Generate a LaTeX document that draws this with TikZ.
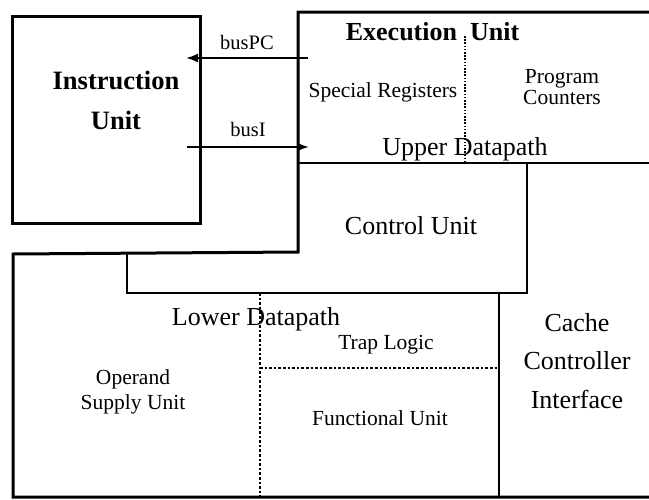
\documentclass[tikz,border=0pt]{standalone}
\usepackage{fontspec}
\setmainfont{Liberation Serif}
\usetikzlibrary{arrows.meta}

\tikzset{
  heavy/.style={line width=3pt, line join=miter},
  light/.style={line width=1.3pt},
  dots/.style={line width=1.3pt, dash pattern=on 1.6pt off 1.6pt},
  dashes/.style={line width=1.3pt, dash pattern=on 2.6pt off 2pt},
  bus/.style={line width=2pt, -{Latex[length=12pt,width=9pt]}},
  big/.style={font=\fontsize{26}{38.5}\selectfont, align=center, inner sep=0pt},
  small/.style={font=\fontsize{21.5}{25}\selectfont, align=center, inner sep=0pt},
  title/.style={font=\bfseries\fontsize{26.5}{40}\selectfont, align=center, inner sep=0pt},
  buslabel/.style={font=\fontsize{20.5}{24}\selectfont, inner sep=0pt},
}

\begin{document}
\begin{tikzpicture}[x=1pt, y=-1pt]
    \useasboundingbox (0,0) rectangle (649,499);

    % Instruction Unit
    \begin{scope}
      \draw[heavy] (12,16) rectangle (200,223); % Box
      \node[title] (iu) at (116,100.5) {Instruction\\Unit};
    \end{scope}

    % Execution Unit, wrapped round the instruction unit
    \begin{scope}
      \draw[heavy] (655,12) -- (298,12) -- (298,252) -- (13,254) -- (13,497) -- (655,497); % Outline
      \node[title, font=\bfseries\fontsize{26}{30}\selectfont] (eu) at (432.5,32) {Execution\hspace{0.5em}Unit};
      \draw[dots] (465,36) -- (465,163); % Registers | counters
      \node[small] (sreg) at (383,92) {Special Registers};
      \node[small, font=\fontsize{21.5}{20.5}\selectfont] (pcnt) at (562,87) {Program\\Counters};
      \draw[light] (298,163) -- (655,163); % Bottom of upper datapath
      \node[big] (udp) at (465,149) {Upper Datapath};
    \end{scope}

    % Buses between the two units
    \coordinate (pcsrc) at (308,58);
    \coordinate (pcdst) at (186,58);
    \coordinate (isrc) at (187,147);
    \coordinate (idst) at (309,147);
    \draw[bus] (pcsrc) -- (pcdst) node[midway, above=7pt, buslabel] (pclab) {busPC};
    \draw[bus] (isrc) -- (idst) node[midway, above=9pt, buslabel] (ilab) {busI};

    % Control Unit
    \draw[light] (127,254) -- (127,293) -- (527,293) -- (527,163);
    \node[big] (cu) at (411,226) {Control Unit};

    % Lower Datapath
    \begin{scope}
      \draw[light] (499,293) -- (499,497); % Cache interface divider
      \draw[dashes] (260,293) -- (260,497); % Operand supply | functional
      \draw[dashes] (260,368) -- (499,368); % Trap logic
      \node[big] (ldp) at (256,319) {Lower Datapath};
      \node[small] (osu) at (133,392) {Operand\\Supply Unit};
      \node[small] (trap) at (386,345) {Trap Logic};
      \node[small] (fu) at (380,418) {Functional Unit};
      \node[big] (cci) at (577,361) {Cache\\Controller\\Interface};
    \end{scope}
  \end{tikzpicture}
\end{document}
